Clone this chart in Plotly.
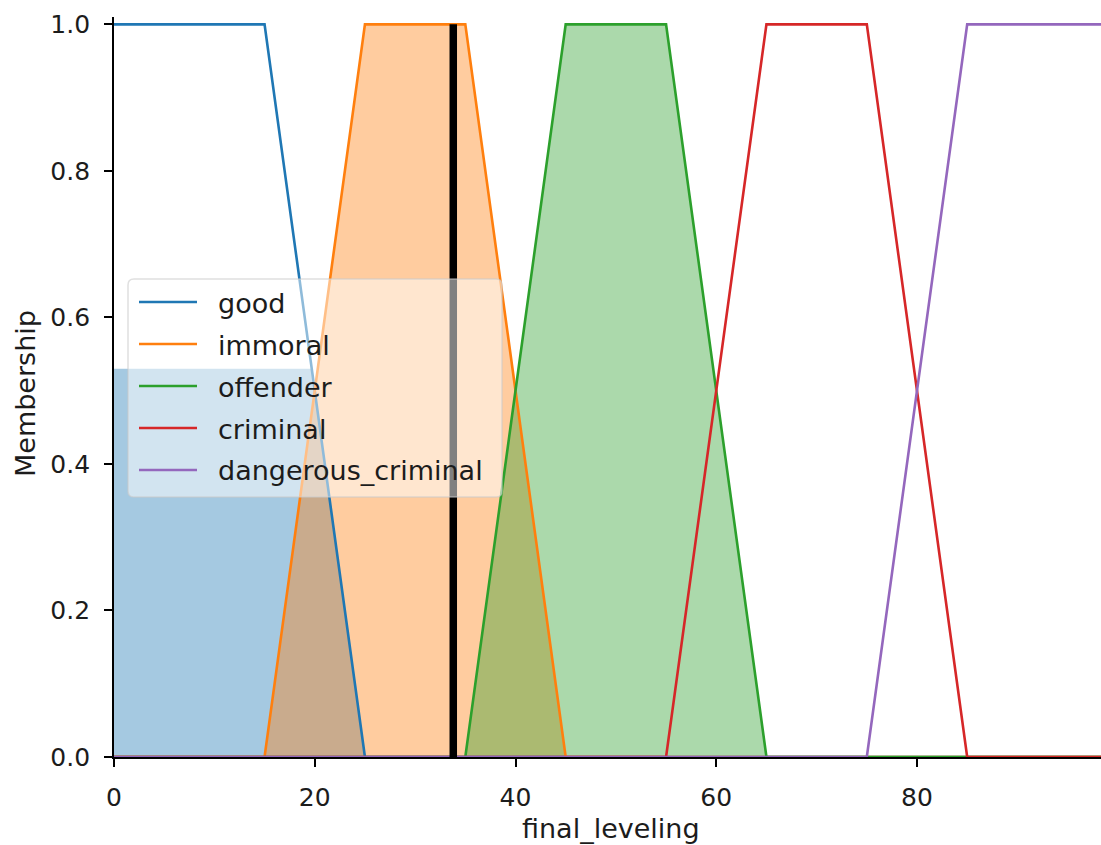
import plotly.graph_objects as go

# Fuzzy output variable "final_leveling": trapezoid vertices for each term
term_names = ["good", "immoral", "offender", "criminal", "dangerous_criminal"]
term_colors = ["#1f77b4", "#ff7f0e", "#2ca02c", "#d62728", "#9467bd"]
term_fills = ["rgba(31,119,180,0.4)", "rgba(255,127,14,0.4)", "rgba(44,160,44,0.4)",
              "rgba(214,39,40,0.4)", "rgba(148,103,189,0.4)"]

good_x = [0, 15, 25, 99]
good_y = [1, 1, 0, 0]
immoral_x = [0, 15, 25, 35, 45, 99]
immoral_y = [0, 0, 1, 1, 0, 0]
offender_x = [0, 35, 45, 55, 65, 99]
offender_y = [0, 0, 1, 1, 0, 0]
criminal_x = [0, 55, 65, 75, 85, 99]
criminal_y = [0, 0, 1, 1, 0, 0]
dangerous_x = [0, 75, 85, 99]
dangerous_y = [0, 0, 1, 1]

# rule activation per term and defuzzified (crisp) output
activation = [0.53, 1.0, 1.0, 0.0, 0.0]
crisp_value = 33.8
crisp_membership = 1.0

y_ticks = [0.0, 0.2, 0.4, 0.6, 0.8, 1.0]
x_ticks = [0, 20, 40, 60, 80]

term_x = [good_x, immoral_x, offender_x, criminal_x, dangerous_x]
term_y = [good_y, immoral_y, offender_y, criminal_y, dangerous_y]

# canvas geometry (pixels)
W, H = 1101, 845
ML, MR, MT, MB = 114, 0, 17, 88
PW, PH = W - ML - MR, H - MT - MB
FONT = "DejaVu Sans, Liberation Sans, sans-serif"
TXT = "#1c1c1c"
LABEL_SIZE = 27
TICK_SIZE = 25


def clip_at(xs, ys, level):
    """Cap a piecewise-linear membership curve at the activation level."""
    ox, oy = [], []
    for i in range(len(xs) - 1):
        x0, y0, x1, y1 = xs[i], ys[i], xs[i + 1], ys[i + 1]
        ox.append(x0)
        oy.append(min(y0, level))
        if (y0 - level) * (y1 - level) < 0:
            t = (level - y0) / (y1 - y0)
            ox.append(x0 + t * (x1 - x0))
            oy.append(level)
    ox.append(xs[-1])
    oy.append(min(ys[-1], level))
    return ox, oy


def px(xp):
    return (xp - ML) / PW


def py(yp):
    return (H - MB - yp) / PH


fig = go.Figure()

# activated areas (under the curves)
for xs, ys, act, fc in zip(term_x, term_y, activation, term_fills):
    if act <= 0:
        continue
    cx, cy = clip_at(xs, ys, act)
    fig.add_trace(go.Scatter(x=cx, y=cy, mode="lines", fill="tozeroy",
                             fillcolor=fc, line=dict(width=0),
                             hoverinfo="skip", showlegend=False))

# membership curves
for name, xs, ys, col in zip(term_names, term_x, term_y, term_colors):
    fig.add_trace(go.Scatter(x=xs, y=ys, mode="lines", name=name,
                             line=dict(color=col, width=2.6),
                             cliponaxis=False, showlegend=False))

# crisp output marker
fig.add_trace(go.Scatter(x=[crisp_value, crisp_value], y=[0, crisp_membership],
                         mode="lines", line=dict(color="black", width=7.5),
                         cliponaxis=False, showlegend=False, name="crisp"))

# legend box (rounded, semi-transparent)
lx0, lx1, ly0, ly1, r = 128, 502, 279, 497, 6
rx, ry = r / PW, r / PH
X0, X1, Y0, Y1 = px(lx0), px(lx1), py(ly1), py(ly0)
path = (f"M {X0+rx},{Y0} L {X1-rx},{Y0} Q {X1},{Y0} {X1},{Y0+ry} "
        f"L {X1},{Y1-ry} Q {X1},{Y1} {X1-rx},{Y1} L {X0+rx},{Y1} "
        f"Q {X0},{Y1} {X0},{Y1-ry} L {X0},{Y0+ry} Q {X0},{Y0} {X0+rx},{Y0} Z")
shapes = [dict(type="path", xref="paper", yref="paper", path=path,
               fillcolor="rgba(255,255,255,0.5)",
               line=dict(color="rgba(204,204,204,0.6)", width=1.5), layer="above")]
annotations = []
row_y = [302, 344, 386, 428, 470]
for name, col, yy in zip(term_names, term_colors, row_y):
    shapes.append(dict(type="line", xref="paper", yref="paper",
                       x0=px(139), x1=px(197), y0=py(yy), y1=py(yy),
                       line=dict(color=col, width=2.6), layer="above"))
    annotations.append(dict(xref="paper", yref="paper", x=px(216), y=py(yy + 1),
                            text=name, showarrow=False, xanchor="left",
                            yanchor="middle",
                            font=dict(size=LABEL_SIZE, family=FONT, color=TXT)))

# axis titles
annotations.append(dict(xref="x", yref="paper", x=49.5, y=py(829), text="final_leveling",
                        showarrow=False, xanchor="center", yanchor="middle",
                        font=dict(size=LABEL_SIZE, family=FONT, color=TXT)))
annotations.append(dict(xref="paper", yref="paper", x=px(25), y=py(394), text="Membership",
                        showarrow=False, textangle=-90, xanchor="center", yanchor="middle",
                        font=dict(size=LABEL_SIZE, family=FONT, color=TXT)))

fig.update_layout(
    width=W, height=H,
    margin=dict(l=ML, r=MR, t=MT, b=MB, pad=0),
    paper_bgcolor="white", plot_bgcolor="white",
    showlegend=False,
    shapes=shapes, annotations=annotations,
    font=dict(family=FONT, size=TICK_SIZE, color=TXT),
)
fig.update_xaxes(range=[0, PW / 10.0375], tickvals=x_ticks, ticktext=[str(v) for v in x_ticks],
                 showgrid=False, zeroline=False, showline=True, linecolor="black",
                 linewidth=1.9, ticks="outside", ticklen=8, tickwidth=1.9,
                 tickcolor="black", ticklabelstandoff=9,
                 tickfont=dict(size=TICK_SIZE, family=FONT, color=TXT))
fig.update_yaxes(range=[0, 1.01], tickvals=y_ticks, ticktext=[f"{v:.1f}" for v in y_ticks],
                 showgrid=False, zeroline=False, showline=True, linecolor="black",
                 linewidth=1.9, ticks="outside", ticklen=8, tickwidth=1.9,
                 tickcolor="black", ticklabelstandoff=9,
                 tickfont=dict(size=TICK_SIZE, family=FONT, color=TXT))

fig.write_html("out.html")
